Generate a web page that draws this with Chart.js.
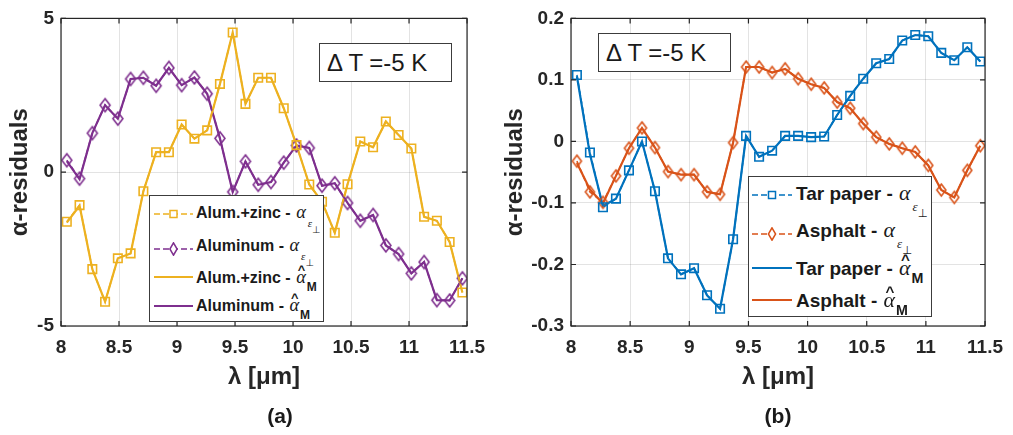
<!DOCTYPE html>
<html>
<head>
<meta charset="utf-8">
<script src="https://cdn.jsdelivr.net/npm/chart.js@4.4.1/dist/chart.umd.min.js"></script>
<style>
body { margin: 0; background: #fff; width: 1013px; height: 435px; position: relative; overflow: hidden; font-family: "Liberation Sans", Arial, sans-serif; color: #1a1a1a; }
.panel { position: absolute; top: 0; height: 435px; }
.box { position: absolute; border: 1px solid #3c3c3c; background: #fff; box-sizing: border-box; }
.dt { font-size: 24px; display: flex; align-items: center; padding-left: 7px; white-space: nowrap; }
.lg svg { position: absolute; }
.lg .t { position: absolute; font-weight: bold; white-space: nowrap; line-height: 1; }
.rel { position: relative; }
.cap { position: absolute; top: 405px; transform: translateX(-50%); font: bold 21px "Liberation Sans", Arial, sans-serif; line-height: 1; }
</style>
</head>
<body>
<div class="panel" style="left:0;width:495px"><canvas id="chartA" width="495" height="435"></canvas></div>
<div class="panel" style="left:495px;width:518px"><canvas id="chartB" width="518" height="435"></canvas></div>

<div class="box dt" style="left:319px;top:43px;width:133px;height:39px">Δ T =-5 K</div>
<div class="box dt" style="left:598px;top:33px;width:133px;height:39px">Δ T =-5 K</div>

<div id="legA" class="box lg" style="left:149px;top:195px;width:175px;height:127px"></div>
<div id="legB" class="box lg" style="left:748px;top:176px;width:184px;height:141px"></div>

<div class="cap" style="left:280px">(a)</div>
<div class="cap" style="left:778px">(b)</div>

<script>
// wavelength samples [um], shared by both panels
const lambda = [8.05, 8.16, 8.27, 8.38, 8.49, 8.60, 8.71, 8.82, 8.93, 9.04, 9.15, 9.26, 9.37, 9.48, 9.59, 9.70,
                9.81, 9.92, 10.03, 10.14, 10.25, 10.36, 10.47, 10.58, 10.69, 10.80, 10.91, 11.02, 11.13, 11.24, 11.35, 11.46];

// (a) alum.+zinc and aluminum residuals
const zincEps = [-1.61, -1.07, -3.15, -4.21, -2.80, -2.64, -0.62, 0.65, 0.65, 1.55, 1.09, 1.36, 2.87, 4.54, 2.22, 3.07,
                 3.07, 2.08, 0.88, -0.40, -0.96, -1.97, -0.39, 1.00, 0.81, 1.65, 1.21, 0.77, -1.45, -1.58, -2.27, -3.91];
const zincM   = [-1.64, -1.09, -3.15, -4.21, -2.80, -2.64, -0.62, 0.65, 0.65, 1.55, 1.09, 1.36, 2.87, 4.54, 2.22, 3.07,
                 3.07, 2.08, 0.88, -0.40, -0.96, -1.97, -0.39, 1.00, 0.81, 1.65, 1.21, 0.77, -1.45, -1.58, -2.27, -3.91];
const aluEps  = [0.39, -0.21, 1.27, 2.18, 1.74, 3.03, 3.07, 2.81, 3.39, 2.83, 3.08, 2.55, 1.10, -0.64, 0.35, -0.41,
                 -0.32, 0.31, 0.87, 0.79, -0.44, -0.36, -1.00, -1.58, -1.39, -2.38, -2.66, -3.29, -2.92, -4.16, -4.17, -3.45];
const aluM    = [0.36, -0.23, 1.27, 2.18, 1.74, 3.03, 3.07, 2.81, 3.39, 2.83, 3.08, 2.55, 1.10, -0.64, 0.35, -0.41,
                 -0.32, 0.31, 0.87, 0.79, -0.44, -0.36, -1.00, -1.58, -1.39, -2.38, -2.66, -3.29, -2.92, -4.16, -4.17, -3.45];

// (b) tar paper and asphalt residuals
const tarEps  = [0.108, -0.018, -0.107, -0.093, -0.047, 0.000, -0.081, -0.190, -0.216, -0.206, -0.250, -0.272, -0.159, 0.009, -0.025, -0.015,
                 0.009, 0.009, 0.007, 0.008, 0.043, 0.074, 0.102, 0.127, 0.134, 0.164, 0.173, 0.171, 0.144, 0.132, 0.153, 0.130];
const tarM    = [0.106, -0.021, -0.105, -0.093, -0.047, 0.000, -0.081, -0.190, -0.216, -0.206, -0.250, -0.272, -0.159, 0.009, -0.025, -0.015,
                 0.009, 0.009, 0.007, 0.008, 0.043, 0.074, 0.102, 0.127, 0.134, 0.164, 0.173, 0.171, 0.144, 0.132, 0.153, 0.130];
const asphEps = [-0.032, -0.082, -0.099, -0.056, -0.011, 0.022, -0.010, -0.049, -0.054, -0.054, -0.082, -0.086, -0.002, 0.121, 0.121, 0.112,
                 0.118, 0.102, 0.093, 0.087, 0.064, 0.054, 0.029, 0.007, -0.004, -0.011, -0.017, -0.039, -0.079, -0.091, -0.047, -0.007];
const asphM   = [-0.035, -0.078, -0.101, -0.056, -0.011, 0.022, -0.010, -0.049, -0.054, -0.054, -0.082, -0.086, -0.002, 0.121, 0.121, 0.112,
                 0.118, 0.102, 0.093, 0.087, 0.064, 0.054, 0.029, 0.007, -0.004, -0.011, -0.017, -0.039, -0.079, -0.091, -0.047, -0.007];

// axis ticks
const xTicks  = [8, 8.5, 9, 9.5, 10, 10.5, 11, 11.5];
const yTicksA = [-5, 0, 5];
const yTicksB = [-0.3, -0.2, -0.1, 0, 0.1, 0.2];

const namesA = ['Alum.+zinc', 'Aluminum'];
const namesB = ['Tar paper', 'Asphalt'];

const YELLOW = '#EDB120', PURPLE = '#7E2F8E', BLUE = '#0072BD', ORANGE = '#D95319';
const INK = '#262626';
const FONT = "'Liberation Sans', Arial, sans-serif";
const SERIF = "'Liberation Serif', 'Times New Roman', serif";

function pts(ys) {
    return lambda.map(function (x, i) { return { x: x, y: ys[i] }; });
}

// taller-than-wide hollow diamond marker
function diamond(color, w, h) {
    const c = document.createElement('canvas');
    c.width = w + 4;
    c.height = h + 4;
    const g = c.getContext('2d');
    g.strokeStyle = color;
    g.lineWidth = 1.6;
    g.beginPath();
    g.moveTo(c.width / 2, 2);
    g.lineTo(c.width - 2, c.height / 2);
    g.lineTo(c.width / 2, c.height - 2);
    g.lineTo(2, c.height / 2);
    g.closePath();
    g.stroke();
    return c;
}

function epsSet(label, ys, color, marker) {
    return {
        label: label, data: pts(ys),
        borderColor: color, borderWidth: 1.6, borderDash: [5, 3],
        pointStyle: marker, pointRadius: 6, pointBorderWidth: 1.6,
        pointBorderColor: color, pointBackgroundColor: 'rgba(0,0,0,0)'
    };
}

function mSet(label, ys, color) {
    return { label: label, data: pts(ys), borderColor: color, borderWidth: 2.2, pointRadius: 0 };
}

// box around the plot area plus inward tick marks
const axesBox = {
    id: 'axesBox',
    afterDraw: function (chart) {
        const ctx = chart.ctx, a = chart.chartArea, sx = chart.scales.x, sy = chart.scales.y;
        ctx.save();
        ctx.strokeStyle = INK;
        ctx.lineWidth = 1.2;
        ctx.strokeRect(a.left, a.top, a.right - a.left, a.bottom - a.top);
        ctx.beginPath();
        sx.ticks.forEach(function (t) {
            const px = sx.getPixelForValue(t.value);
            ctx.moveTo(px, a.bottom); ctx.lineTo(px, a.bottom - 5);
            ctx.moveTo(px, a.top); ctx.lineTo(px, a.top + 5);
        });
        sy.ticks.forEach(function (t) {
            const py = sy.getPixelForValue(t.value);
            ctx.moveTo(a.left, py); ctx.lineTo(a.left + 5, py);
            ctx.moveTo(a.right, py); ctx.lineTo(a.right - 5, py);
        });
        ctx.stroke();
        ctx.restore();
    }
};

function makeOptions(yMin, yMax, yTicks, yWidth, padRight) {
    const tickFont = { family: FONT, size: 19, weight: 'bold' };
    const titleFont = { family: FONT, size: 24, weight: 'bold' };
    return {
        responsive: false,
        animation: false,
        layout: { padding: { top: 12, right: padRight, left: 0, bottom: 39 } },
        plugins: { legend: { display: false }, tooltip: { enabled: false } },
        scales: {
            x: {
                type: 'linear', min: 8, max: 11.5,
                afterBuildTicks: function (s) { s.ticks = xTicks.map(function (v) { return { value: v }; }); },
                afterFit: function (s) { s.height = 70; },
                grid: { color: 'rgba(38,38,38,0.13)', drawTicks: false },
                border: { display: false },
                ticks: { font: tickFont, color: INK, padding: 10, maxRotation: 0, callback: function (v) { return String(v); } },
                title: { display: true, text: 'λ [μm]', font: titleFont, color: INK, padding: { top: 0, bottom: 4 } }
            },
            y: {
                type: 'linear', min: yMin, max: yMax,
                afterBuildTicks: function (s) { s.ticks = yTicks.map(function (v) { return { value: v }; }); },
                afterFit: function (s) { s.width = yWidth; },
                grid: { color: 'rgba(38,38,38,0.13)', drawTicks: false },
                border: { display: false },
                ticks: { font: tickFont, color: INK, padding: 7, callback: function (v) { return String(v); } },
                title: { display: true, text: 'α-residuals', font: titleFont, color: INK, padding: { top: 6, bottom: 0 } }
            }
        }
    };
}

new Chart(document.getElementById('chartA'), {
    type: 'line',
    data: {
        datasets: [
            epsSet(namesA[0], zincEps, YELLOW, 'rect'),
            epsSet(namesA[1], aluEps, PURPLE, diamond(PURPLE, 10, 13)),
            mSet(namesA[0], zincM, YELLOW),
            mSet(namesA[1], aluM, PURPLE)
        ]
    },
    options: makeOptions(-5, 5, yTicksA, 61, 14),
    plugins: [axesBox]
});

new Chart(document.getElementById('chartB'), {
    type: 'line',
    data: {
        datasets: [
            epsSet(namesB[0], tarEps, BLUE, 'rect'),
            epsSet(namesB[1], asphEps, ORANGE, diamond(ORANGE, 9, 12)),
            mSet(namesB[0], tarM, BLUE),
            mSet(namesB[1], asphM, ORANGE)
        ]
    },
    options: makeOptions(-0.3, 0.2, yTicksB, 76, 25),
    plugins: [axesBox]
});

// legend line samples
function sample(color, kind, w) {
    let s = '<svg width="' + w + '" height="14"';
    if (kind === 'line') {
        s += '><line x1="0" y1="7" x2="' + w + '" y2="7" stroke="' + color + '" stroke-width="2"/>';
    } else {
        const c = w / 2;
        s += '><line x1="0" y1="7" x2="' + w + '" y2="7" stroke="' + color + '" stroke-width="1.5" stroke-dasharray="6 3"/>';
        if (kind === 'sq') {
            s += '<rect x="' + (c - 3.5) + '" y="3.5" width="7" height="7" fill="#fff" stroke="' + color + '" stroke-width="1.5"/>';
        } else {
            s += '<polygon points="' + c + ',0.8 ' + (c + 3.6) + ',7 ' + c + ',13.2 ' + (c - 3.6) + ',7" fill="#fff" stroke="' + color + '" stroke-width="1.5"/>';
        }
    }
    return s + '</svg>';
}

// alpha with epsilon-perp subscript, or alpha-hat with M subscript
function mathLabel(kind, F) {
    let s = '<span class="rel" style="margin-left:1px;font:italic ' + (1.15 * F) + 'px ' + SERIF + '">α';
    if (kind === 'hat') {
        s += '<span style="position:absolute;left:' + (0.1 * F) + 'px;top:' + (-0.2 * F) + 'px;font:bold ' + (0.8 * F) + 'px ' + FONT + ';line-height:1">^</span>';
    }
    s += '</span>';
    if (kind === 'hat') {
        s += '<span class="rel" style="top:' + (0.45 * F) + 'px;margin-left:1px;font:bold ' + (0.75 * F) + 'px ' + FONT + '">M</span>';
    } else {
        s += '<span class="rel" style="top:' + (0.56 * F) + 'px;margin-left:2px;font:italic ' + (0.68 * F) + 'px ' + SERIF + '">ε</span>';
        s += '<span class="rel" style="top:' + (0.88 * F) + 'px;font:' + (0.6 * F) + 'px \'DejaVu Sans\', sans-serif">⊥</span>';
    }
    return s;
}

function buildLegend(id, F, sampleLeft, sampleW, textLeft, rows) {
    const box = document.getElementById(id);
    let html = '';
    rows.forEach(function (r) {
        html += '<div style="position:absolute;left:' + sampleLeft + 'px;top:' + (r.lineY - 7) + 'px;width:' + sampleW + 'px;height:14px">' +
                sample(r.color, r.kind, sampleW) + '</div>';
        html += '<div class="t" style="left:' + textLeft + 'px;top:' + (r.base - 0.8465 * F) + 'px;font-size:' + F + 'px">' +
                r.name + ' - ' + mathLabel(r.math, F) + '</div>';
    });
    box.innerHTML = html;
}

buildLegend('legA', 16, 4, 39, 46, [
    { name: namesA[0], color: YELLOW, kind: 'sq', math: 'eps', lineY: 18, base: 20 },
    { name: namesA[1], color: PURPLE, kind: 'dm', math: 'eps', lineY: 53, base: 53 },
    { name: namesA[0], color: YELLOW, kind: 'line', math: 'hat', lineY: 81, base: 85 },
    { name: namesA[1], color: PURPLE, kind: 'line', math: 'hat', lineY: 110, base: 113 }
]);

buildLegend('legB', 19, 3, 40, 47, [
    { name: namesB[0], color: BLUE, kind: 'sq', math: 'eps', lineY: 18, base: 20 },
    { name: namesB[1], color: ORANGE, kind: 'dm', math: 'eps', lineY: 57, base: 57 },
    { name: namesB[0], color: BLUE, kind: 'line', math: 'hat', lineY: 91, base: 95 },
    { name: namesB[1], color: ORANGE, kind: 'line', math: 'hat', lineY: 123, base: 127 }
]);
</script>
</body>
</html>
